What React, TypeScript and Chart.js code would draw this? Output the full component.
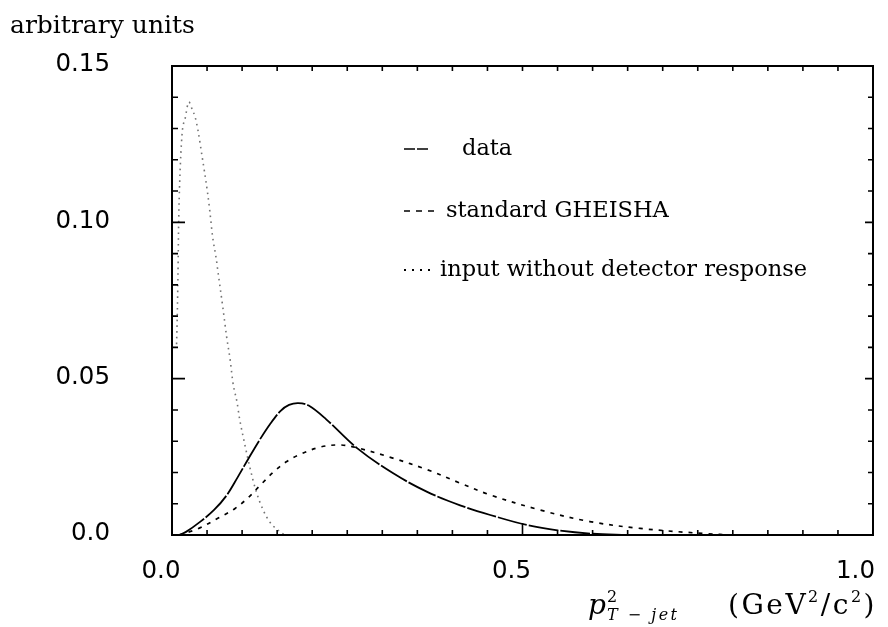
import React, { useEffect, useRef } from "react";
import { Chart, registerables } from "chart.js";

Chart.register(...registerables);

// p_T^2 of the jet (GeV^2/c^2) and distribution heights (arbitrary units)
const dataX = [0.01, 0.02, 0.04, 0.06, 0.078, 0.094, 0.11, 0.125, 0.14, 0.155, 0.167, 0.18, 0.195, 0.22, 0.264, 0.315, 0.364, 0.411, 0.454, 0.506, 0.55, 0.6, 0.65];
const dataY = [0, 0.001, 0.0042, 0.008, 0.0127, 0.0186, 0.0248, 0.0304, 0.0355, 0.0397, 0.0416, 0.0422, 0.0414, 0.037, 0.0278, 0.0198, 0.0138, 0.0095, 0.0064, 0.0032, 0.0015, 0.0004, 0];

const gheishaX = [0.01, 0.037, 0.066, 0.09, 0.108, 0.128, 0.147, 0.163, 0.183, 0.211, 0.24, 0.264, 0.315, 0.364, 0.411, 0.454, 0.525, 0.596, 0.668, 0.763, 0.8];
const gheishaY = [0, 0.002, 0.0054, 0.0085, 0.0118, 0.0164, 0.0206, 0.0234, 0.0258, 0.0281, 0.0288, 0.0279, 0.0246, 0.0209, 0.0166, 0.0128, 0.008, 0.0043, 0.0021, 0.0004, 0];

const inputX = [0.0065, 0.0075, 0.0085, 0.0095, 0.011, 0.0143, 0.019, 0.024, 0.029, 0.033, 0.037, 0.043, 0.046, 0.051, 0.054, 0.058, 0.063, 0.066, 0.073, 0.078, 0.083, 0.087, 0.093, 0.096, 0.104, 0.111, 0.12, 0.13, 0.14, 0.16];
const inputY = [0.061, 0.07, 0.083, 0.1, 0.113, 0.128, 0.1335, 0.1385, 0.136, 0.1337, 0.1295, 0.121, 0.1167, 0.109, 0.1035, 0.0953, 0.0885, 0.0835, 0.072, 0.0633, 0.056, 0.0486, 0.0422, 0.0377, 0.0288, 0.0217, 0.014, 0.008, 0.004, 0];

const seriesNames = ["data", "standard GHEISHA", "input without detector response"];

const yTickValues = [0, 0.05, 0.1, 0.15];
const yTickLabels = ["0.0", "0.05", "0.10", "0.15"];
const xTickValues = [0, 0.5, 1.0];
const xTickLabels = ["0.0", "0.5", "1.0"];
const yMinorStep = 0.01;
const xMinorStep = 0.05;

const yTitle = "arbitrary units";

const SERIF = "'DejaVu Serif', serif";
const SANS = "'DejaVu Sans', sans-serif";

const styles = [
  { color: "#000", width: 1.8, dash: [30, 2], tension: 0.35, mono: false },
  { color: "#000", width: 1.7, dash: [4, 6], tension: 0.35, mono: false },
  { color: "rgba(0,0,0,0.55)", width: 1.6, dash: [1.6, 4.2], tension: 0, mono: true },
];

const toPoints = (xs: number[], ys: number[]) => xs.map((x, i) => ({ x, y: ys[i] }));

const decorations = {
  id: "decorations",
  afterDatasetsDraw(chart: any) {
    const { ctx, chartArea } = chart;
    const xs = chart.scales.x;
    const ys = chart.scales.y;
    const { left, right, top, bottom } = chartArea;
    ctx.save();
    ctx.strokeStyle = "#000";
    ctx.fillStyle = "#000";
    ctx.setLineDash([]);

    // frame
    ctx.lineWidth = 2;
    ctx.strokeRect(left, top, right - left, bottom - top);

    // inward ticks on the y axis (both sides)
    ctx.lineWidth = 1.6;
    const nY = Math.round((ys.max - ys.min) / yMinorStep);
    for (let i = 0; i <= nY; i++) {
      const v = ys.min + i * yMinorStep;
      const py = ys.getPixelForValue(v);
      const major = i % 5 === 0;
      ctx.beginPath();
      ctx.moveTo(left, py);
      ctx.lineTo(left + (major ? 13 : 6), py);
      ctx.moveTo(right, py);
      ctx.lineTo(right - (major ? 8 : 5), py);
      ctx.stroke();
    }
    // inward ticks on the x axis (both sides)
    const nX = Math.round((xs.max - xs.min) / xMinorStep);
    for (let i = 0; i <= nX; i++) {
      const v = xs.min + i * xMinorStep;
      const px = xs.getPixelForValue(v);
      const major = i % 10 === 0;
      ctx.beginPath();
      ctx.moveTo(px, bottom);
      ctx.lineTo(px, bottom - (major ? 12 : 5));
      ctx.moveTo(px, top);
      ctx.lineTo(px, top + 5);
      ctx.stroke();
    }

    // tick labels
    ctx.font = `24.5px ${SANS}`;
    ctx.textAlign = "right";
    ctx.textBaseline = "middle";
    yTickValues.forEach((v, i) => {
      ctx.fillText(yTickLabels[i], left - 62, ys.getPixelForValue(v) - 1);
    });
    ctx.textAlign = "center";
    ctx.textBaseline = "alphabetic";
    xTickValues.forEach((v, i) => {
      const w = ctx.measureText(xTickLabels[i]).width;
      const px = Math.min(xs.getPixelForValue(v) - 11, right + 2 - w / 2);
      ctx.fillText(xTickLabels[i], px, bottom + 43);
    });

    // y title
    ctx.textAlign = "left";
    ctx.font = `25px ${SERIF}`;
    ctx.fillText(yTitle, 10, 33);

    // x title: p^2_{T-jet} (GeV^2/c^2)
    const base = bottom + 79;
    const c2: any = ctx;
    // symbol part, left aligned
    let cx = left + 416;
    ctx.font = `italic 28px ${SERIF}`;
    ctx.fillText("p", cx, base);
    cx += ctx.measureText("p").width + 1;
    ctx.font = `16px ${SERIF}`;
    ctx.fillText("2", cx, base - 12);
    ctx.font = `italic 16px ${SERIF}`;
    c2.letterSpacing = "2.5px";
    ctx.fillText("T \u2212 jet", cx, base + 6);
    c2.letterSpacing = "0px";
    // unit part, right aligned to the frame
    type Piece = { t: string; f: string; dy: number };
    const unit: Piece[] = [
      { t: "(GeV", f: `28px ${SERIF}`, dy: 0 },
      { t: "2", f: `16px ${SERIF}`, dy: -12 },
      { t: "/c", f: `28px ${SERIF}`, dy: 0 },
      { t: "2", f: `16px ${SERIF}`, dy: -12 },
      { t: ")", f: `28px ${SERIF}`, dy: 0 },
    ];
    c2.letterSpacing = "2.5px";
    let total = 0;
    unit.forEach((p) => {
      ctx.font = p.f;
      total += ctx.measureText(p.t).width;
    });
    let ux = right + 4 - total;
    unit.forEach((p) => {
      ctx.font = p.f;
      ctx.fillText(p.t, ux, base + p.dy);
      ux += ctx.measureText(p.t).width;
    });
    c2.letterSpacing = "0px";

    // legend
    const lx = left + 232;
    const rows = [
      { y: top + 83, x0: lx, x1: lx + 24, tx: lx + 58 },
      { y: top + 145, x0: lx, x1: lx + 35, tx: lx + 42 },
      { y: top + 204, x0: lx, x1: lx + 32, tx: lx + 36 },
    ];
    rows.forEach((r, i) => {
      ctx.strokeStyle = "#000";
      ctx.lineWidth = i === 2 ? 2 : 1.4;
      ctx.setLineDash(i === 0 ? [11, 2] : i === 1 ? [6, 6] : [2, 6]);
      ctx.beginPath();
      ctx.moveTo(r.x0, r.y);
      ctx.lineTo(r.x1, r.y);
      ctx.stroke();
      ctx.setLineDash([]);
      ctx.font = `22.5px ${SERIF}`;
      ctx.textBaseline = "alphabetic";
      ctx.fillText(seriesNames[i], r.tx, r.y + 6);
    });
    ctx.restore();
  },
};

export default function App() {
  const ref = useRef<HTMLCanvasElement | null>(null);
  useEffect(() => {
    if (!ref.current) return;
    const series = [
      toPoints(dataX, dataY),
      toPoints(gheishaX, gheishaY),
      toPoints(inputX, inputY),
    ];
    const chart = new Chart(ref.current, {
      type: "line",
      data: {
        datasets: series.map((pts, i) => ({
          label: seriesNames[i],
          data: pts,
          borderColor: styles[i].color,
          borderWidth: styles[i].width,
          borderDash: styles[i].dash,
          pointRadius: 0,
          fill: false,
          tension: styles[i].tension,
          cubicInterpolationMode: styles[i].mono ? ("monotone" as const) : ("default" as const),
        })),
      },
      options: {
        animation: false,
        responsive: false,
        parsing: false,
        layout: { padding: { top: 66, right: 15, left: 0, bottom: 0 } },
        plugins: { legend: { display: false }, tooltip: { enabled: false } },
        scales: {
          x: {
            type: "linear",
            min: 0,
            max: 1,
            grid: { display: false, drawTicks: false },
            border: { display: false },
            ticks: { display: false },
            afterFit: (s: any) => {
              s.height = 92;
            },
          },
          y: {
            type: "linear",
            min: 0,
            max: 0.15,
            grid: { display: false, drawTicks: false },
            border: { display: false },
            ticks: { display: false },
            afterFit: (s: any) => {
              s.width = 172;
            },
          },
        },
      },
      plugins: [decorations],
    });
    return () => chart.destroy();
  }, []);
  return (
    <div style={{ position: "fixed", left: 0, top: 0, width: 888, height: 627, background: "#fff" }}>
      <canvas ref={ref} width={888} height={627} style={{ display: "block" }} />
    </div>
  );
}
